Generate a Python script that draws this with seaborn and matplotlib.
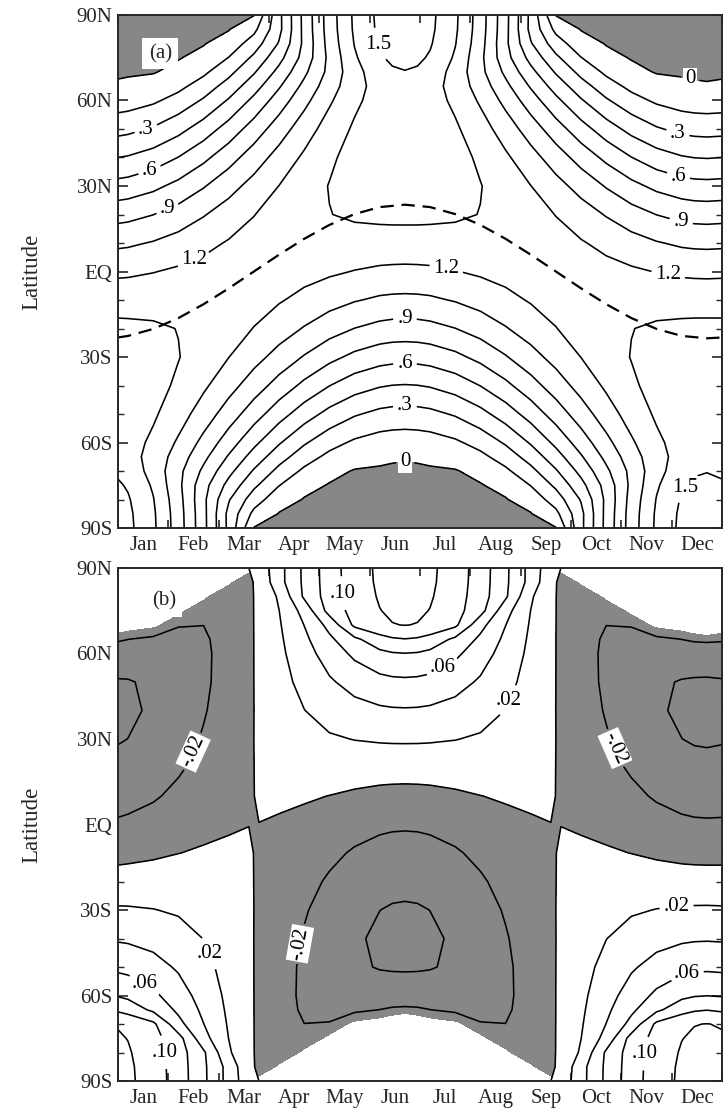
import numpy as np
import matplotlib
matplotlib.use("Agg")
import matplotlib.pyplot as plt
import seaborn as sns

sns.set_style("ticks")
plt.rcParams["font.family"] = ["Liberation Serif", "DejaVu Serif"]
plt.rcParams["axes.linewidth"] = 1.4
plt.rcParams["contour.negative_linestyle"] = "solid"

month_names = ["Jan", "Feb", "Mar", "Apr", "May", "Jun",
               "Jul", "Aug", "Sep", "Oct", "Nov", "Dec"]
lat_ticks = [-90, -60, -30, 0, 30, 60, 90]
lat_names = ["90S", "60S", "30S", "EQ", "30N", "60N", "90N"]

lats = [90, 85, 80, 75, 70, 65, 60, 50, 40, 30, 20, 10, 0,
        -10, -20, -30, -40, -50, -60, -65, -70, -75, -80, -85, -90]

# (a) daily insolation / global mean: latitude profiles (90N -> 90S)
# for a northern-hemisphere sun at the given declination
insol_d0 = [0, .111, .221, .330, .435, .538, .637, .818, .975, 1.102, 1.196, 1.254, 1.273,
            1.254, 1.196, 1.102, .975, .818, .637, .538, .435, .330, .221, .111, 0]
insol_d6 = [.412, .410, .462, .552, .644, .735, .822, .978, 1.106, 1.202, 1.262, 1.283, 1.267,
            1.212, 1.121, .996, .841, .662, .465, .362, .257, .154, .056, 0, 0]
insol_d11 = [.796, .793, .784, .805, .869, .939, 1.007, 1.130, 1.225, 1.287, 1.312, 1.299, 1.248,
             1.161, 1.040, .889, .714, .521, .318, .218, .121, .037, 0, 0, 0]
insol_d16 = [1.125, 1.121, 1.108, 1.087, 1.092, 1.132, 1.179, 1.265, 1.326, 1.355, 1.347, 1.303, 1.222,
             1.107, .962, .792, .603, .403, .204, .112, .034, 0, 0, 0, 0]
insol_d20 = [1.378, 1.373, 1.357, 1.331, 1.295, 1.296, 1.320, 1.371, 1.402, 1.403, 1.369, 1.299, 1.195,
             1.060, .898, .714, .516, .315, .126, .047, 0, 0, 0, 0, 0]
insol_d22 = [1.537, 1.531, 1.514, 1.485, 1.445, 1.410, 1.414, 1.439, 1.450, 1.432, 1.380, 1.294, 1.175,
             1.027, .855, .663, .462, .262, .083, .017, 0, 0, 0, 0, 0]
insol_d23b = [1.578, 1.572, 1.554, 1.524, 1.483, 1.441, 1.439, 1.457, 1.462, 1.439, 1.383, 1.293, 1.170,
              1.019, .843, .650, .448, .249, .073, .011, 0, 0, 0, 0, 0]
insol_d23 = [1.591, 1.585, 1.567, 1.537, 1.495, 1.451, 1.447, 1.463, 1.466, 1.441, 1.384, 1.292, 1.168,
             1.016, .839, .646, .443, .244, .069, .009, 0, 0, 0, 0, 0]
insol_jan1 = [1.572, 1.566, 1.548, 1.518, 1.477, 1.436, 1.435, 1.455, 1.460, 1.438, 1.383, 1.293, 1.171,
              1.020, .845, .652, .450, .250, .074, .012, 0, 0, 0, 0, 0]

# (b) insolation change for larger obliquity, same layout
obl_d1 = [.0067, .0038, .0035, .0034, .0033, .0031, .0030, .0026, .0021, .0017, .0011, .0005, -.00004,
          -.0006, -.0012, -.0017, -.0022, -.0026, -.0029, -.0030, -.0031, -.0031, -.0031, -.0028, 0]
obl_d6 = [.0331, .0330, .0227, .0198, .0181, .0167, .0155, .0130, .0104, .0077, .0048, .0018, -.0011,
          -.0039, -.0066, -.0089, -.0109, -.0124, -.0132, -.0133, -.0131, -.0122, -.0100, 0, 0]
obl_d11 = [.0641, .0638, .0631, .0471, .0403, .0358, .0321, .0258, .0197, .0136, .0076, .0016, -.0041,
           -.0095, -.0143, -.0184, -.0215, -.0233, -.0233, -.0223, -.0199, -.0147, 0, 0, 0]
obl_d16 = [.0906, .0902, .0892, .0875, .0662, .0560, .0489, .0375, .0274, .0179, .0086, -.0002, -.0085,
           -.0159, -.0223, -.0274, -.0308, -.0319, -.0296, -.0261, -.0189, 0, 0, 0, 0]
obl_d20 = [.1109, .1105, .1092, .1071, .1042, .0759, .0641, .0472, .0333, .0205, .0085, -.0027, -.0130,
           -.0220, -.0294, -.0349, -.0380, -.0377, -.0320, -.0247, 0, 0, 0, 0, 0]
obl_d22 = [.1237, .1232, .1218, .1195, .1162, .0923, .0754, .0539, .0370, .0219, .0080, -.0049, -.0164,
           -.0263, -.0343, -.0399, -.0425, -.0409, -.0318, -.0198, 0, 0, 0, 0, 0]
obl_d23b = [.1270, .1265, .1250, .1227, .1194, .0976, .0786, .0557, .0380, .0223, .0078, -.0055, -.0174,
            -.0275, -.0357, -.0413, -.0436, -.0416, -.0314, -.0175, 0, 0, 0, 0, 0]
obl_d23 = [.1281, .1276, .1261, .1237, .1204, .0994, .0796, .0563, .0383, .0224, .0077, -.0057, -.0177,
           -.0279, -.0361, -.0417, -.0440, -.0418, -.0313, -.0167, 0, 0, 0, 0, 0]
obl_jan1 = [.1263, .1258, .1243, .1220, .1187, .0968, .0785, .0555, .0378, .0221, .0076, -.0056, -.0175,
            -.0275, -.0356, -.0411, -.0434, -.0412, -.0309, -.0178, 0, 0, 0, 0, 0]

# month position, profile, hemisphere of the sun ("S" mirrors the profile)
cols_a = [(0.0, insol_jan1, "S"), (0.2, insol_d22, "S"), (0.7, insol_d20, "S"),
          (1.2, insol_d16, "S"), (1.7, insol_d11, "S"), (2.2, insol_d6, "S"),
          (2.7, insol_d0, "N"), (3.2, insol_d6, "N"), (3.7, insol_d11, "N"),
          (4.2, insol_d16, "N"), (4.7, insol_d20, "N"), (5.2, insol_d22, "N"),
          (5.45, insol_d23b, "N"), (5.7, insol_d23, "N"), (5.95, insol_d23b, "N"),
          (6.2, insol_d22, "N"), (6.7, insol_d20, "N"), (7.2, insol_d16, "N"),
          (7.7, insol_d11, "N"), (8.2, insol_d6, "N"), (8.7, insol_d0, "N"),
          (9.2, insol_d6, "S"), (9.7, insol_d11, "S"), (10.2, insol_d16, "S"),
          (10.7, insol_d20, "S"), (11.2, insol_d22, "S"), (11.45, insol_d23b, "S"),
          (11.7, insol_d23, "S"), (12.0, insol_jan1, "S")]
cols_b = [(0.0, obl_jan1, "S"), (0.2, obl_d22, "S"), (0.7, obl_d20, "S"),
          (1.2, obl_d16, "S"), (1.7, obl_d11, "S"), (2.2, obl_d6, "S"),
          (2.6, obl_d1, "S"), (2.8, obl_d1, "N"), (3.2, obl_d6, "N"),
          (3.7, obl_d11, "N"), (4.2, obl_d16, "N"), (4.7, obl_d20, "N"),
          (5.2, obl_d22, "N"), (5.45, obl_d23b, "N"), (5.7, obl_d23, "N"),
          (5.95, obl_d23b, "N"), (6.2, obl_d22, "N"), (6.7, obl_d20, "N"),
          (7.2, obl_d16, "N"), (7.7, obl_d11, "N"), (8.2, obl_d6, "N"),
          (8.6, obl_d1, "N"), (8.8, obl_d1, "S"), (9.2, obl_d6, "S"),
          (9.7, obl_d11, "S"), (10.2, obl_d16, "S"), (10.7, obl_d20, "S"),
          (11.2, obl_d22, "S"), (11.45, obl_d23b, "S"), (11.7, obl_d23, "S"),
          (12.0, obl_jan1, "S")]

# subsolar latitude (dashed curve in a)
decl_months = [0.0, 0.2, 0.7, 1.2, 1.7, 2.2, 2.7, 3.2, 3.7, 4.2, 4.7, 5.2, 5.7,
               6.2, 6.7, 7.2, 7.7, 8.2, 8.7, 9.2, 9.7, 10.2, 10.7, 11.2, 11.7, 12.0]
declination = [-23.14, -22.60, -20.15, -16.34, -11.47, -5.91, 0, 5.91, 11.47, 16.34,
               20.15, 22.60, 23.44, 22.60, 20.15, 16.34, 11.47, 5.91, 0, -5.91,
               -11.47, -16.34, -20.15, -22.60, -23.44, -23.14]

levels_a_plain = [0.15, 0.45, 0.75, 1.05, 1.35]
levels_a_lab = [0.3, 0.6, 0.9, 1.2, 1.5]
dark_a = 0.006
levels_b_plain = [-0.04, 1e-6, 0.04, 0.08, 0.12]
levels_b_lab = [-0.02, 0.02, 0.06, 0.10]
gray = "#878787"
lw = 1.15
fs = 15


def build(cols):
    x = [c[0] for c in cols]
    z = np.column_stack([np.array(p) if h == "N" else np.array(p)[::-1]
                         for _, p, h in cols])
    X, Y = np.meshgrid(x, lats)
    return X, Y, z


def fmt_a(v):
    return "0" if v < 0.1 else f"{v:.1f}".lstrip("0")


def fmt_b(v):
    return f"{v:.2f}".replace("0.", ".", 1)


def style_axes(ax):
    ax.set_xlim(0, 12)
    ax.set_ylim(-90, 90)
    ax.set_xticks(range(13))
    ax.set_xticklabels([])
    ax.set_xticks(np.arange(0.5, 12, 1), labels=month_names, minor=True)
    ax.tick_params(axis="x", which="major", direction="in", length=6, width=1.2,
                   top=True, bottom=True)
    ax.tick_params(axis="x", which="minor", length=0, labelsize=fs, pad=6)
    ax.set_yticks(lat_ticks, labels=lat_names)
    ax.set_yticks(range(-90, 91, 10), minor=True)
    ax.tick_params(axis="y", which="both", direction="in", left=True, right=True,
                   labelsize=fs, pad=4)
    ax.tick_params(axis="y", which="major", length=7, width=1.2)
    ax.tick_params(axis="y", which="minor", length=4, width=1.0)
    ax.set_ylabel("Latitude", fontsize=16.5)
    ax.yaxis.set_label_coords(-0.125, 0.5)
    for s in ax.spines.values():
        s.set_visible(True)
        s.set_linewidth(1.4)


def tidy_labels(texts, keep_rotated=()):
    # upright labels on white, as in the printed figure
    for t in texts:
        if t.get_text() not in keep_rotated:
            t.set_rotation(0)
        t.set_bbox(dict(boxstyle="square,pad=0.08", fc="white", ec="none"))


fig = plt.figure(figsize=(7.23, 11.10), dpi=100)
ax_a = fig.add_axes([0.1632, 0.5243, 0.8354, 0.4622])
ax_b = fig.add_axes([0.1632, 0.0261, 0.8354, 0.4622])

Xa, Ya, A = build(cols_a)
Xb, Yb, B = build(cols_b)

# ---- panel (a)
ax_a.contourf(Xa, Ya, A, levels=[-1, dark_a], colors=[gray])
ax_a.contour(Xa, Ya, A, levels=levels_a_plain, colors="k", linewidths=lw)
cs_a = ax_a.contour(Xa, Ya, A, levels=levels_a_lab, colors="k", linewidths=lw)
cz_a = ax_a.contour(Xa, Ya, A, levels=[dark_a], colors="k", linewidths=lw)
sns.lineplot(x=decl_months, y=declination, ax=ax_a, color="k", linewidth=1.6)
ax_a.lines[-1].set_dashes([6, 3.5])

pos_a = [(0.58, 48.6), (0.64, 34.9), (0.99, 21.6), (1.49, 4.7),
         (5.14, 79.5), (6.53, 1.7), (5.7, -17), (5.7, -32.8), (5.7, -47.5),
         (11.07, 45.4), (11.11, 32.1), (11.21, 18.8), (10.93, -1.2), (11.3, -76)]
ta = ax_a.clabel(cs_a, manual=pos_a, fmt=fmt_a, fontsize=fs,
                 inline=True, inline_spacing=4)
tz = ax_a.clabel(cz_a, manual=[(11.35, 66.1), (5.7, -67.5)], fmt=fmt_a,
                 fontsize=fs, inline=True, inline_spacing=4)
tidy_labels(ta)
tidy_labels(tz)
ax_a.text(0.07, 0.925, "(a)", transform=ax_a.transAxes, fontsize=15,
          ha="center", va="center",
          bbox=dict(boxstyle="square,pad=0.3", fc="white", ec="none"))
style_axes(ax_a)

# ---- panel (b)
ax_b.contourf(Xb, Yb, B, levels=[-1, -1e-6], colors=[gray])
# polar night stays blank
ax_b.contourf(Xa, Ya, A, levels=[-1, dark_a], colors=["white"])
ax_b.contour(Xb, Yb, B, levels=levels_b_plain, colors="k", linewidths=lw)
cs_b = ax_b.contour(Xb, Yb, B, levels=levels_b_lab, colors="k", linewidths=lw)
pos_b = [(4.47, 81.2), (6.45, 54.9), (7.82, 43.0), (1.55, 25.1), (9.79, 26.1),
         (3.52, -41.6), (1.83, -45.1), (0.54, -55.6), (0.81, -80.2),
         (11.1, -29.3), (11.3, -52.1), (10.38, -80.2)]
tb = ax_b.clabel(cs_b, manual=pos_b, fmt=fmt_b, fontsize=fs,
                 inline=True, inline_spacing=4)
tidy_labels(tb, keep_rotated=("-.02",))
ax_b.text(0.076, 0.935, "(b)", transform=ax_b.transAxes, fontsize=15,
          ha="center", va="center",
          bbox=dict(boxstyle="square,pad=0.3", fc="white", ec="none"))
style_axes(ax_b)

fig.savefig("out.png", dpi=100)
